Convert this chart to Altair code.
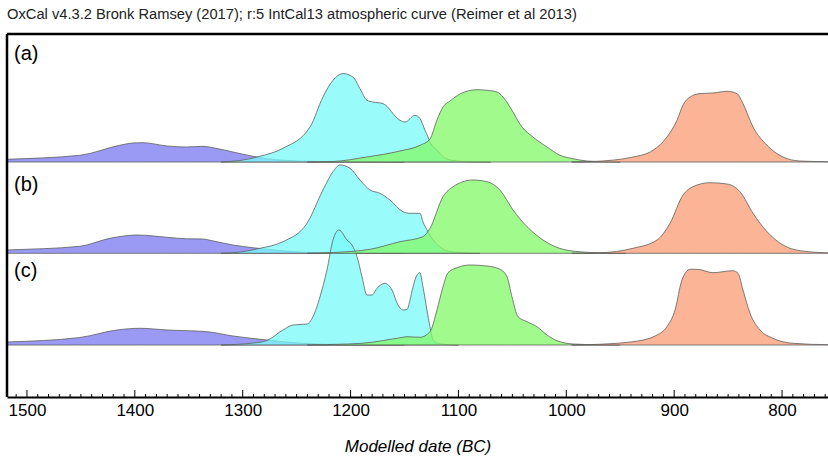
import altair as alt
import pandas as pd

# Modelled date distributions (years BC) and relative probability heights
# for three model runs (a), (b), (c); four phases per run.
ROWS = ["a", "b", "c"]

purple_a_year = [1530, 1518.5, 1451, 1414, 1402, 1392.5, 1370, 1352, 1336.8, 1327.6, 1309, 1290.5, 1277.5, 1247, 1216, 1180, 1150]
purple_a_prob = [2.2, 2.7, 6.7, 16.7, 19, 19.3, 16, 15, 15.7, 14.3, 10, 5.7, 3.3, 1, 0.3, 0.1, 0]
purple_b_year = [1530, 1518.5, 1451, 1423, 1398, 1370, 1352, 1337, 1328, 1309, 1290, 1277, 1247, 1216, 1180, 1150]
purple_b_prob = [2.8, 3.3, 7, 15, 18.3, 16, 14.5, 14.3, 12.5, 8.3, 5.5, 4, 1.2, 0.3, 0.1, 0]
purple_c_year = [1530, 1518.5, 1451, 1416.6, 1395, 1370, 1333, 1309, 1277.5, 1247, 1216, 1180, 1150]
purple_c_prob = [2.6, 3, 7.5, 15, 16.7, 15, 13.3, 9, 5, 1.8, 0.5, 0.1, 0]

cyan_a_year = [1320, 1302.5, 1284, 1262.7, 1237.6, 1225.6, 1216.3, 1207, 1197.8, 1191.3, 1184.8, 1179.2, 1170, 1154.2, 1149.5, 1140.3, 1135.6, 1131, 1128.2, 1126.4, 1120, 1114, 1105, 1090, 1070]
cyan_a_prob = [0, 1.5, 5.7, 13.7, 35, 65, 81.7, 88.4, 85, 73.4, 61.7, 60, 58.4, 41.7, 40, 46.7, 43.4, 31.7, 25, 20, 12, 5, 1.5, 0.3, 0]
cyan_b_year = [1320, 1302.5, 1284, 1262.7, 1240.4, 1225.6, 1216.3, 1209.8, 1200.5, 1191.3, 1182, 1172.7, 1163.5, 1151.4, 1144.9, 1135.7, 1132.9, 1128.2, 1124, 1118, 1112, 1100, 1080]
cyan_b_prob = [0, 1.2, 5, 11.6, 30, 63.3, 81.6, 88.3, 85, 73.3, 63.3, 60, 53.3, 41.6, 40, 40, 31.6, 21.6, 14, 7, 3, 0.8, 0]
cyan_c_year = [1320, 1290, 1277.5, 1262.7, 1253.4, 1240.4, 1234.8, 1228.4, 1221.9, 1216.3, 1210.7, 1203.3, 1198.7, 1194, 1189.4, 1184.8, 1180.2, 1175.5, 1168.1, 1161.6, 1156, 1151.4, 1147.7, 1144.9, 1142.1, 1138.4, 1135.7, 1132.9, 1129.2, 1126.4, 1123.6, 1117, 1100]
cyan_c_prob = [0, 2, 4.5, 15, 20, 21, 28.3, 48, 75, 105, 115, 105, 100, 88.3, 68.3, 50, 50, 56.7, 61.7, 55, 40, 35, 35.5, 45, 58.3, 70, 72.3, 58.3, 35, 18.3, 5, 1, 0]

green_a_year = [1240, 1216.3, 1185, 1154.2, 1135.6, 1126.4, 1119.9, 1114.3, 1107.8, 1098.6, 1082.8, 1073.5, 1064.3, 1058.7, 1052.2, 1041.1, 1030.9, 1017.9, 1005.8, 993.8, 980.8, 965, 950]
green_a_prob = [0, 0.5, 5, 11, 16.7, 23, 42, 55, 61, 68, 72.3, 71.7, 70, 65, 55, 35, 25, 15, 6.7, 3.3, 1, 0.3, 0]
green_b_year = [1240, 1216, 1182, 1154.2, 1132.9, 1126.4, 1114.3, 1105, 1086.5, 1073.5, 1061.5, 1049.4, 1036.4, 1021.6, 1003.1, 980.8, 959.5, 945]
green_b_prob = [0, 0.8, 4, 11.6, 16.6, 25, 56.6, 66.6, 73.3, 71.6, 63.3, 43.3, 26.6, 13.3, 4, 1, 0.2, 0]
green_c_year = [1240, 1216, 1189.4, 1151.4, 1147.7, 1135.7, 1126.4, 1119.9, 1114.3, 1109.7, 1101.3, 1089.3, 1073.5, 1061.5, 1055, 1050.4, 1044.8, 1036.4, 1027.2, 1017.9, 1008.6, 993.8, 968.8, 950]
green_c_prob = [0, 0.6, 1.7, 7.7, 8.3, 7.7, 13.3, 35, 58.3, 72.3, 77.3, 80, 79, 75.7, 68.3, 48.3, 28.3, 23.3, 18.3, 10, 4.3, 1, 0.2, 0]

salmon_a_year = [995, 975.3, 938.2, 919.6, 906.7, 897.4, 891.8, 885.3, 876.1, 864, 851, 841.8, 836.2, 826.9, 813.9, 799.1, 783.3, 757.4, 740]
salmon_a_prob = [0, 0.5, 5, 11.7, 25, 41.7, 57, 65, 68.4, 69, 70.7, 68.4, 58.4, 35, 16.7, 5, 1, 0.3, 0.2]
salmon_b_year = [995, 968.8, 938.2, 915.9, 903.9, 891.8, 882.6, 866.8, 851, 839, 826.9, 813.9, 799.1, 783.3, 757.4, 740]
salmon_b_prob = [0, 0.5, 5, 13.3, 30, 58.3, 66.6, 70.6, 69.3, 61.6, 40, 21.6, 8.3, 2.6, 0.5, 0.3]
salmon_c_year = [995, 980.8, 938.2, 915.9, 906.7, 899.2, 892.8, 885.3, 878.8, 864, 845.5, 840.8, 836.2, 829.7, 820.4, 808.4, 789.8, 757.4, 740]
salmon_c_prob = [0, 0.3, 3.3, 10, 18.3, 35, 65, 75.7, 75.7, 72.3, 74.3, 71.7, 55, 31.7, 15, 6.7, 1.7, 0.3, 0.2]

TITLE = "OxCal v4.3.2 Bronk Ramsey (2017); r:5 IntCal13 atmospheric curve (Reimer et al 2013)"
AXIS_TITLE = "Modelled date (BC)"
TICK_LABELS = [800, 900, 1000, 1100, 1200, 1300, 1400, 1500]

# ---- layout / style ----
W, H = 821, 363
X_DOMAIN = [757.4, 1518.5]
ROW_BASE = {"a": 235, "b": 143.7, "c": 52}
FONT = "Liberation Sans"

series = {
    "purple": ("#7878f2", [(purple_a_year, purple_a_prob), (purple_b_year, purple_b_prob), (purple_c_year, purple_c_prob)]),
    "cyan": ("#78fafa", [(cyan_a_year, cyan_a_prob), (cyan_b_year, cyan_b_prob), (cyan_c_year, cyan_c_prob)]),
    "green": ("#80fa66", [(green_a_year, green_a_prob), (green_b_year, green_b_prob), (green_c_year, green_c_prob)]),
    "salmon": ("#fa9b73", [(salmon_a_year, salmon_a_prob), (salmon_b_year, salmon_b_prob), (salmon_c_year, salmon_c_prob)]),
}

x_scale = alt.Scale(domain=X_DOMAIN, reverse=True, nice=False, zero=False)
y_scale = alt.Scale(domain=[0, H], nice=False, zero=False)
x_axis = alt.Axis(
    values=TICK_LABELS, format="d", ticks=False, grid=False,
    domain=True, domainColor="black", domainWidth=2,
    labelFont=FONT, labelFontSize=17, labelColor="black", labelPadding=5,
    title=AXIS_TITLE, titleFont=FONT, titleFontSize=17, titleFontStyle="italic",
    titleFontWeight="normal", titleColor="black", titlePadding=20,
)

layers = []
for name, (color, runs) in series.items():
    recs = []
    for row, (yrs, prob) in zip(ROWS, runs):
        for yv, pv in zip(yrs, prob):
            recs.append({"row": row, "year": yv, "prob": pv, "base": ROW_BASE[row]})
    df = pd.DataFrame(recs)
    layer = (
        alt.Chart(df)
        .transform_calculate(top="datum.base + datum.prob")
        .mark_area(clip=True, interpolate="monotone", fill=color, fillOpacity=0.75,
                   stroke="#5e5e5e", strokeWidth=0.8)
        .encode(
            x=alt.X("year:Q", scale=x_scale, axis=x_axis, title=AXIS_TITLE),
            y=alt.Y("top:Q", scale=y_scale, axis=None),
            y2="base:Q",
            detail="row:N",
        )
    )
    layers.append(layer)

# minor (10 yr) and major (100 yr) ticks pointing into the plot
tick_years = list(range(760, 1520, 10))
ticks = pd.DataFrame({"year": tick_years})
ticks["lo"] = 0
ticks["hi"] = [7 if y % 100 == 0 else 3 for y in tick_years]
layers.append(
    alt.Chart(ticks).mark_rule(color="black", strokeWidth=1)
    .encode(x=alt.X("year:Q", scale=x_scale, axis=x_axis, title=AXIS_TITLE),
            y=alt.Y("lo:Q", scale=y_scale, axis=None), y2="hi:Q")
)

one = pd.DataFrame({"t": [""]})
# frame: top and left edges
layers.append(alt.Chart(one).mark_rule(color="black", strokeWidth=2.5)
              .encode(x=alt.value(0), x2=alt.value(W), y=alt.value(0)))
layers.append(alt.Chart(one).mark_rule(color="black", strokeWidth=2.5)
              .encode(x=alt.value(0), y=alt.value(0), y2=alt.value(H)))

# run labels
for lab, ypx in [("(a)", 20), ("(b)", 151), ("(c)", 237)]:
    layers.append(
        alt.Chart(pd.DataFrame({"t": [lab]}))
        .mark_text(align="left", baseline="middle", font=FONT, fontSize=20, color="black")
        .encode(x=alt.value(7), y=alt.value(ypx), text="t:N")
    )

# header line
layers.append(
    alt.Chart(pd.DataFrame({"t": [TITLE]}))
    .mark_text(align="left", baseline="middle", font=FONT, fontSize=14.7, color="#222222")
    .encode(x=alt.value(0), y=alt.value(-19), text="t:N")
)

chart = (
    alt.layer(*layers)
    .properties(width=W, height=H, autosize="none",
                padding={"left": 7, "top": 34, "right": 0, "bottom": 62},
                background="white")
    .configure_view(stroke=None)
)

chart.save("out.html", embed_options={"renderer": "svg", "actions": False})
